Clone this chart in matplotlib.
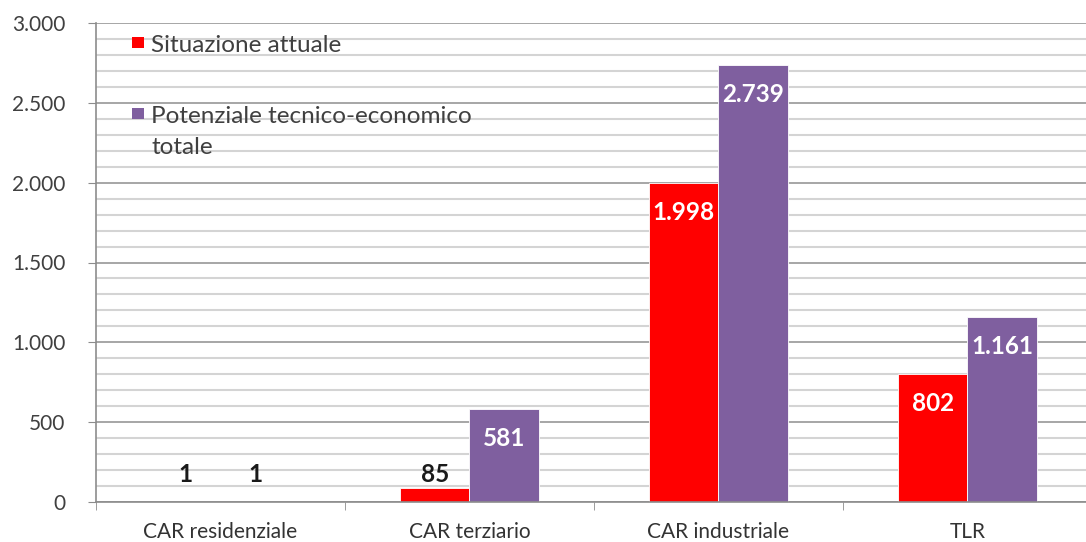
import matplotlib
matplotlib.use("Agg")
import matplotlib.pyplot as plt
from matplotlib.patches import Rectangle
from matplotlib.ticker import MultipleLocator, FuncFormatter
import numpy as np

categories = ["CAR residenziale", "CAR terziario", "CAR industriale", "TLR"]
series_names = ["Situazione attuale", "Potenziale tecnico-economico\ntotale"]
situazione = [1, 85, 1998, 802]
potenziale = [1, 581, 2739, 1161]
colors = ["#ff0000", "#7f5f9f"]

plt.rcParams['font.family'] = ['Lato', 'DejaVu Sans']

W, H = 1086, 542
fig = plt.figure(figsize=(W / 100, H / 100), dpi=100)
left, right, top, bottom = 96, 1092, 23, 502
ax = fig.add_axes([left / W, (H - bottom) / H, (right - left) / W, (bottom - top) / H])

x = np.arange(len(categories))
bw = 0.28
series = [situazione, potenziale]
for i, vals in enumerate(series):
    pos = x - bw / 2 + i * bw
    ax.bar(pos, vals, width=bw, color=colors[i], edgecolor="white", linewidth=0.6, zorder=3)
    for p, v in zip(pos, vals):
        small = v < 300
        y = max(v - 185, 170)
        ax.text(p, y, f"{v:,}".replace(",", "."), ha="center", va="center",
                fontsize=17.5, fontweight="bold",
                color="#1a1a1a" if small else "white", zorder=5)

ax.set_xlim(-0.5, len(categories) - 0.5)
ax.set_ylim(0, 3000)
ax.yaxis.set_major_locator(MultipleLocator(500))
ax.yaxis.set_minor_locator(MultipleLocator(100))
ax.yaxis.set_major_formatter(FuncFormatter(lambda v, _: f"{int(v):,}".replace(",", ".")))
ax.grid(axis="y", which="minor", color="#d4d4d4", linewidth=1.5, zorder=0)
ax.grid(axis="y", which="major", color="#a6a6a6", linewidth=1.4, zorder=0)
ax.tick_params(axis="y", which="minor", length=0)
ax.tick_params(axis="y", which="major", length=6, color="#8c8c8c", labelsize=15,
               labelcolor="#404040", pad=16)

ax.set_xticks(x)
ax.set_xticklabels(categories)
ax.set_xticks(np.arange(-0.5, len(categories), 1), minor=True)
ax.tick_params(axis="x", which="major", length=0, labelsize=15, labelcolor="#333333", pad=14.5)
ax.tick_params(axis="x", which="minor", length=6, color="#8c8c8c")

for s in ["top", "right"]:
    ax.spines[s].set_visible(False)
for s in ["left", "bottom"]:
    ax.spines[s].set_color("#8c8c8c")
    ax.spines[s].set_linewidth(1.2)
    ax.spines[s].set_zorder(4)

def ax_xy(px, py):
    return (px - left) / (right - left), (bottom - py) / (bottom - top)

# legend (white area hiding gridlines, squares, labels)
ax.add_patch(Rectangle((0.002, 0.71), 0.408, 0.29, transform=ax.transAxes,
                       facecolor="white", edgecolor="none", zorder=1.5))
entry_baseline = [52, 123]
line_step = 31
for c, name, by in zip(colors, series_names, entry_baseline):
    sx, sy = ax_xy(132, by - 4)
    ax.add_patch(Rectangle((sx, sy), 12 / (right - left), 11 / (bottom - top),
                           transform=ax.transAxes, facecolor=c, edgecolor="none", zorder=6))
    for k, line in enumerate(name.split("\n")):
        tx, ty = ax_xy(151, by + k * line_step)
        ax.text(tx, ty, line, transform=ax.transAxes, ha="left", va="baseline",
                fontsize=17.5, color="#404040", zorder=6)

fig.savefig("out.png", dpi=100)
